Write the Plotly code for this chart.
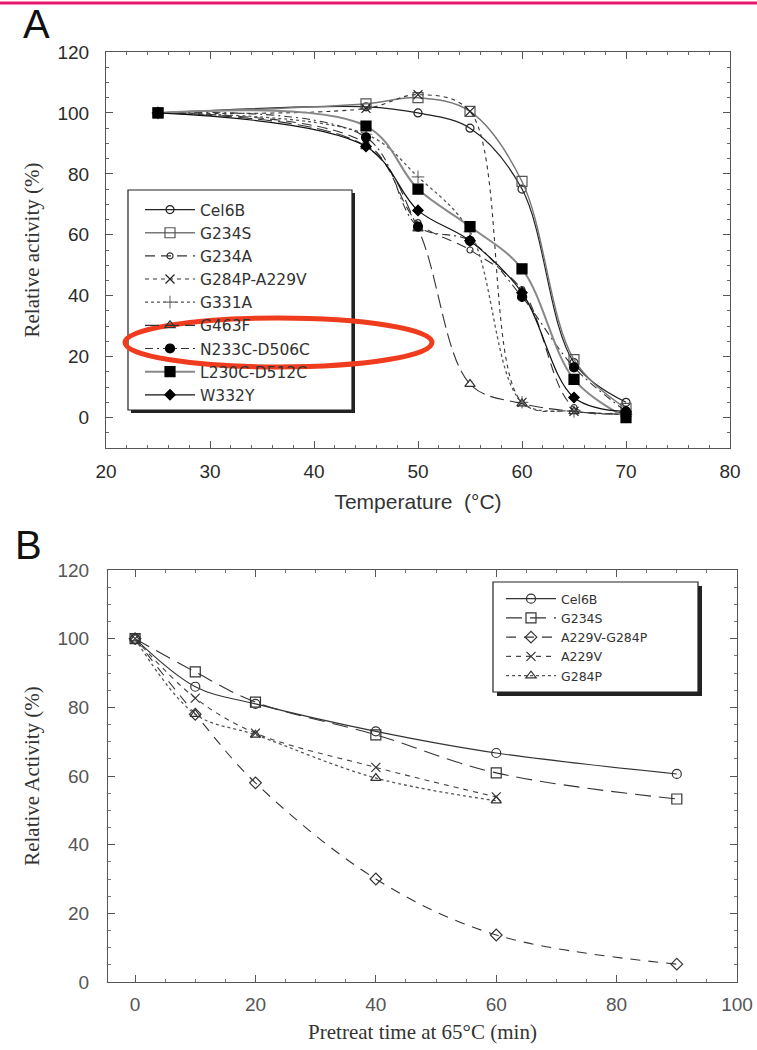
import plotly.graph_objects as go

W, H = 757, 1050

# ---------------- Panel A data ----------------
temp_c = [25, 45, 50, 55, 60, 65, 70]
names_a = ["Cel6B", "G234S", "G234A", "G284P-A229V", "G331A", "G463F",
           "N233C-D506C", "L230C-D512C", "W332Y"]
cel6b_a = [100, 102, 100, 95, 75, 18, 5]
g234s_a = [100, 103, 105, 100.5, 77.5, 19, 3]
g234a_a = [100, 90, 64, 55, 42, 3.3, 2]
g284p_a229v_a = [100, 101.5, 106, 100.5, 5, 2, 1]
g331a_a = [100, 93, 79, 61, 5, 2, 1]
g463f_a = [100, 89, 62, 11, 4.6, 2, 1]
n233c_d506c_a = [100, 92, 62.7, 58, 39.6, 16.5, 2]
l230c_d512c_a = [100, 95.7, 75, 62.7, 48.8, 12.5, 0]
w332y_a = [100, 89, 68, 58, 41, 6.6, 2]

# ---------------- Panel B data ----------------
pretreat_min = [0, 10, 20, 40, 60, 90]
pretreat_short = [0, 10, 20, 40, 60]
names_b = ["Cel6B", "G234S", "A229V-G284P", "A229V", "G284P"]
cel6b_b = [100, 86, 81, 73, 66.7, 60.6]
g234s_b = [100, 90.3, 81.5, 72, 60.9, 53.3]
a229v_g284p_b = [100, 78, 58, 30, 13.7, 5.2]
a229v_b = [100, 82.7, 72.5, 62.5, 53.9]
g284p_b = [100, 78, 72, 59.4, 52.8]

def px(x):
    return x / W

def py(y):
    return 1 - y / H

fig = go.Figure()

styles_a = [
    dict(dash="solid", color="#222", width=1.2, symbol="circle-open", size=8, mcolor="#222"),
    dict(dash="solid", color="#777", width=1.4, symbol="square-open", size=10, mcolor="#555"),
    dict(dash="10px,6px", color="#333", width=1.1, symbol="circle-open", size=6, mcolor="#333"),
    dict(dash="4px,4px", color="#333", width=1.1, symbol="x-thin-open", size=9, mcolor="#222"),
    dict(dash="dot", color="#555", width=1.3, symbol="cross-thin-open", size=9, mcolor="#777"),
    dict(dash="14px,6px", color="#333", width=1.1, symbol="triangle-up-open", size=9, mcolor="#333"),
    dict(dash="8px,4px,2px,4px", color="#333", width=1.1, symbol="circle", size=9, mcolor="#000"),
    dict(dash="solid", color="#888", width=2.0, symbol="square", size=10, mcolor="#000"),
    dict(dash="solid", color="#111", width=1.2, symbol="diamond", size=8, mcolor="#000"),
]
series_a = [cel6b_a, g234s_a, g234a_a, g284p_a229v_a, g331a_a, g463f_a,
            n233c_d506c_a, l230c_d512c_a, w332y_a]

for name, ys, st in zip(names_a, series_a, styles_a):
    fig.add_trace(go.Scatter(
        x=temp_c, y=ys, name=name, mode="lines+markers",
        line=dict(color=st["color"], width=st["width"], dash=st["dash"],
                  shape="spline", smoothing=1.0),
        marker=dict(symbol=st["symbol"], size=st["size"], color=st["mcolor"],
                    line=dict(color=st["mcolor"], width=1.2)),
        xaxis="x", yaxis="y", legend="legend",
    ))

styles_b = [
    dict(dash="solid", color="#333", width=1.1, symbol="circle-open", size=9),
    dict(dash="16px,8px", color="#333", width=1.1, symbol="square-open", size=10),
    dict(dash="10px,8px", color="#333", width=1.1, symbol="diamond-open", size=9),
    dict(dash="5px,5px", color="#444", width=1.1, symbol="x-thin-open", size=9),
    dict(dash="dot", color="#555", width=1.3, symbol="triangle-up-open", size=9),
]
series_b = [(pretreat_min, cel6b_b), (pretreat_min, g234s_b),
            (pretreat_min, a229v_g284p_b), (pretreat_short, a229v_b),
            (pretreat_short, g284p_b)]

for name, (xs, ys), st in zip(names_b, series_b, styles_b):
    fig.add_trace(go.Scatter(
        x=xs, y=ys, name=name, mode="lines+markers",
        line=dict(color=st["color"], width=st["width"], dash=st["dash"],
                  shape="spline", smoothing=1.0),
        marker=dict(symbol=st["symbol"], size=st["size"], color="#333",
                    line=dict(color="#333", width=1.2)),
        xaxis="x2", yaxis="y2", legend="legend2",
    ))

tick_font = dict(family="Liberation Sans, Arial, sans-serif", size=19, color="#2a2a2a")
tick_font_b = dict(family="Liberation Sans, Arial, sans-serif", size=19, color="#555")
serif = "Liberation Serif, Times New Roman, serif"

axis_common = dict(
    showline=True, linecolor="#555", linewidth=1, mirror="ticks",
    ticks="inside", ticklen=7, tickwidth=1, tickcolor="#555",
    showgrid=False, zeroline=False, automargin=False,
)

fig.update_layout(
    width=W, height=H,
    margin=dict(l=0, r=0, t=0, b=0, pad=0),
    paper_bgcolor="white", plot_bgcolor="white",
    xaxis=dict(domain=[px(106), px(730)], range=[20, 80], dtick=10, tick0=0,
               minor=dict(dtick=2, ticks="inside", ticklen=3, tickcolor="#666"),
               tickfont=tick_font, ticklabelstandoff=6,
               title=dict(text="Temperature  (°C)", standoff=13,
                          font=dict(family="Liberation Sans, Arial, sans-serif", size=21, color="#333")),
               anchor="y", **axis_common),
    yaxis=dict(domain=[py(448), py(52)], range=[-10, 120], dtick=20, tick0=0,
               minor=dict(dtick=5, ticks="inside", ticklen=3, tickcolor="#666"),
               tickfont=tick_font, ticklabelstandoff=12,
               title=dict(text="Relative activity (%)", standoff=12,
                          font=dict(family=serif, size=21, color="#333")),
               anchor="x", **axis_common),
    xaxis2=dict(domain=[px(108), px(737)], range=[-4.5, 100], dtick=20, tick0=0,
                minor=dict(dtick=5, ticks="inside", ticklen=3, tickcolor="#777"),
                tickfont=tick_font_b, ticklabelstandoff=5,
                title=dict(text="Pretreat time at 65°C (min)", standoff=10,
                           font=dict(family=serif, size=21, color="#333")),
                anchor="y2", **axis_common),
    yaxis2=dict(domain=[py(982), py(570)], range=[0, 120], dtick=20, tick0=0,
                minor=dict(dtick=5, ticks="inside", ticklen=3, tickcolor="#777"),
                tickfont=tick_font_b, ticklabelstandoff=14,
                title=dict(text="Relative Activity (%)", standoff=12,
                           font=dict(family=serif, size=21, color="#333")),
                anchor="x2", **axis_common),
    legend=dict(x=px(140), y=py(193), xanchor="left", yanchor="top",
                bgcolor="rgba(0,0,0,0)", borderwidth=0, itemwidth=50,
                font=dict(family="DejaVu Sans, sans-serif", size=15.5, color="#333"),
                itemsizing="trace", tracegroupgap=0),
    legend2=dict(x=px(501), y=py(584), xanchor="left", yanchor="top",
                 bgcolor="rgba(0,0,0,0)", borderwidth=0, itemwidth=50,
                 font=dict(family="DejaVu Sans, sans-serif", size=12.5, color="#333"),
                 itemsizing="trace", tracegroupgap=0),
    showlegend=True,
)

shapes = [
    dict(type="line", xref="paper", yref="paper", x0=0, x1=1, y0=py(3), y1=py(3),
         line=dict(color="#E8156B", width=3)),
    dict(type="rect", xref="paper", yref="paper", x0=px(131), x1=px(355), y0=py(413), y1=py(193),
         fillcolor="#222", line=dict(width=0), layer="above"),
    dict(type="rect", xref="paper", yref="paper", x0=px(128), x1=px(352), y0=py(410), y1=py(190),
         fillcolor="white", line=dict(color="#222", width=1.2), layer="above"),
    dict(type="rect", xref="paper", yref="paper", x0=px(497), x1=px(702), y0=py(696), y1=py(586),
         fillcolor="#222", line=dict(width=0), layer="above"),
    dict(type="rect", xref="paper", yref="paper", x0=px(493), x1=px(698), y0=py(692), y1=py(582),
         fillcolor="white", line=dict(color="#222", width=1.2), layer="above"),
    dict(type="circle", xref="paper", yref="paper", x0=px(125), x1=px(432), y0=py(367), y1=py(318),
         line=dict(color="#F03C1E", width=5), layer="above"),
]
fig.update_layout(shapes=shapes)

fig.add_annotation(text="A", xref="paper", yref="paper", x=px(36), y=py(24),
                   xanchor="center", yanchor="middle", showarrow=False,
                   font=dict(family="Liberation Sans, Arial, sans-serif", size=40, color="#111"))
fig.add_annotation(text="B", xref="paper", yref="paper", x=px(28), y=py(545),
                   xanchor="center", yanchor="middle", showarrow=False,
                   font=dict(family="Liberation Sans, Arial, sans-serif", size=40, color="#111"))

fig.write_html("out.html", config={"displayModeBar": False},
               post_script="document.body.style.margin='0px';")
